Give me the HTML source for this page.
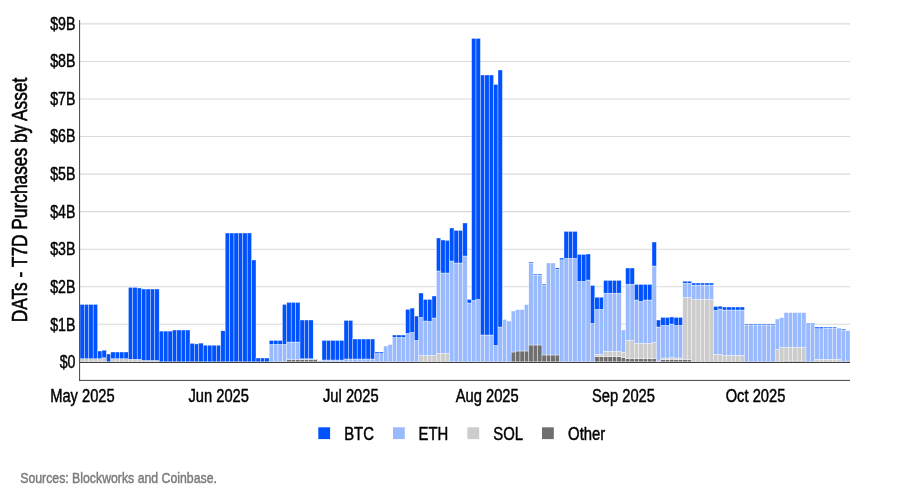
<!DOCTYPE html>
<html lang="en">
<head>
<meta charset="utf-8">
<title>DATs - T7D Purchases by Asset</title>
<style>
html,body{margin:0;padding:0;background:#fff;}
body{width:900px;height:500px;overflow:hidden;font-family:"Liberation Sans",sans-serif;}
svg{display:block;}
svg text{font-family:"Liberation Sans",sans-serif;}
</style>
</head>
<body>
<svg width="900" height="500" viewBox="0 0 900 500">
<rect width="900" height="500" fill="#ffffff"/>
<g stroke="#dadada" stroke-width="1.1" fill="none">
<line x1="80" x2="850" y1="324.30" y2="324.30"/>
<line x1="80" x2="850" y1="286.75" y2="286.75"/>
<line x1="80" x2="850" y1="249.20" y2="249.20"/>
<line x1="80" x2="850" y1="211.65" y2="211.65"/>
<line x1="80" x2="850" y1="174.10" y2="174.10"/>
<line x1="80" x2="850" y1="136.55" y2="136.55"/>
<line x1="80" x2="850" y1="99.00" y2="99.00"/>
<line x1="80" x2="850" y1="61.45" y2="61.45"/>
<line x1="80" x2="850" y1="23.90" y2="23.90"/>
</g>
<g stroke="#ffffff" stroke-width="0.5" stroke-opacity="0.75">
<rect x="80.00" y="358.70" width="4.40" height="3.10" fill="#cccccc"/>
<rect x="80.00" y="304.40" width="4.40" height="54.30" fill="#0052ff"/>
<rect x="84.40" y="358.70" width="4.40" height="3.10" fill="#cccccc"/>
<rect x="84.40" y="304.40" width="4.40" height="54.30" fill="#0052ff"/>
<rect x="88.80" y="358.70" width="4.40" height="3.10" fill="#cccccc"/>
<rect x="88.80" y="304.40" width="4.40" height="54.30" fill="#0052ff"/>
<rect x="93.20" y="358.70" width="4.40" height="3.10" fill="#cccccc"/>
<rect x="93.20" y="304.40" width="4.40" height="54.30" fill="#0052ff"/>
<rect x="97.60" y="358.70" width="4.40" height="3.10" fill="#cccccc"/>
<rect x="97.60" y="351.00" width="4.40" height="7.70" fill="#0052ff"/>
<rect x="102.00" y="357.80" width="4.40" height="4.00" fill="#cccccc"/>
<rect x="102.00" y="350.20" width="4.40" height="7.60" fill="#0052ff"/>
<rect x="106.40" y="354.00" width="4.40" height="7.80" fill="#0052ff"/>
<rect x="110.80" y="358.70" width="4.40" height="3.10" fill="#cccccc"/>
<rect x="110.80" y="352.00" width="4.40" height="6.70" fill="#0052ff"/>
<rect x="115.20" y="358.70" width="4.40" height="3.10" fill="#cccccc"/>
<rect x="115.20" y="352.00" width="4.40" height="6.70" fill="#0052ff"/>
<rect x="119.60" y="358.70" width="4.40" height="3.10" fill="#cccccc"/>
<rect x="119.60" y="352.00" width="4.40" height="6.70" fill="#0052ff"/>
<rect x="124.00" y="358.70" width="4.40" height="3.10" fill="#cccccc"/>
<rect x="124.00" y="352.00" width="4.40" height="6.70" fill="#0052ff"/>
<rect x="128.40" y="359.30" width="4.40" height="2.50" fill="#cccccc"/>
<rect x="128.40" y="287.40" width="4.40" height="71.90" fill="#0052ff"/>
<rect x="132.80" y="359.30" width="4.40" height="2.50" fill="#cccccc"/>
<rect x="132.80" y="287.40" width="4.40" height="71.90" fill="#0052ff"/>
<rect x="137.20" y="359.30" width="4.40" height="2.50" fill="#cccccc"/>
<rect x="137.20" y="288.00" width="4.40" height="71.30" fill="#0052ff"/>
<rect x="141.60" y="360.50" width="4.40" height="1.30" fill="#cccccc"/>
<rect x="141.60" y="289.00" width="4.40" height="71.50" fill="#0052ff"/>
<rect x="146.00" y="360.50" width="4.40" height="1.30" fill="#cccccc"/>
<rect x="146.00" y="289.00" width="4.40" height="71.50" fill="#0052ff"/>
<rect x="150.40" y="360.50" width="4.40" height="1.30" fill="#cccccc"/>
<rect x="150.40" y="289.00" width="4.40" height="71.50" fill="#0052ff"/>
<rect x="154.80" y="360.50" width="4.40" height="1.30" fill="#cccccc"/>
<rect x="154.80" y="289.00" width="4.40" height="71.50" fill="#0052ff"/>
<rect x="159.20" y="331.10" width="4.40" height="30.70" fill="#0052ff"/>
<rect x="163.60" y="331.10" width="4.40" height="30.70" fill="#0052ff"/>
<rect x="168.00" y="331.10" width="4.40" height="30.70" fill="#0052ff"/>
<rect x="172.40" y="330.00" width="4.40" height="31.80" fill="#0052ff"/>
<rect x="176.80" y="330.00" width="4.40" height="31.80" fill="#0052ff"/>
<rect x="181.20" y="330.00" width="4.40" height="31.80" fill="#0052ff"/>
<rect x="185.60" y="330.00" width="4.40" height="31.80" fill="#0052ff"/>
<rect x="190.00" y="343.30" width="4.40" height="18.50" fill="#0052ff"/>
<rect x="194.40" y="343.90" width="4.40" height="17.90" fill="#0052ff"/>
<rect x="198.80" y="343.10" width="4.40" height="18.70" fill="#0052ff"/>
<rect x="203.20" y="345.20" width="4.40" height="16.60" fill="#0052ff"/>
<rect x="207.60" y="345.20" width="4.40" height="16.60" fill="#0052ff"/>
<rect x="212.00" y="345.20" width="4.40" height="16.60" fill="#0052ff"/>
<rect x="216.40" y="345.20" width="4.40" height="16.60" fill="#0052ff"/>
<rect x="220.80" y="330.80" width="4.40" height="31.00" fill="#0052ff"/>
<rect x="225.20" y="233.00" width="4.40" height="128.80" fill="#0052ff"/>
<rect x="229.60" y="233.00" width="4.40" height="128.80" fill="#0052ff"/>
<rect x="234.00" y="233.00" width="4.40" height="128.80" fill="#0052ff"/>
<rect x="238.40" y="233.00" width="4.40" height="128.80" fill="#0052ff"/>
<rect x="242.80" y="233.00" width="4.40" height="128.80" fill="#0052ff"/>
<rect x="247.20" y="233.00" width="4.40" height="128.80" fill="#0052ff"/>
<rect x="251.60" y="260.00" width="4.40" height="101.80" fill="#0052ff"/>
<rect x="256.00" y="358.00" width="4.40" height="3.80" fill="#0052ff"/>
<rect x="260.40" y="358.00" width="4.40" height="3.80" fill="#0052ff"/>
<rect x="264.80" y="358.00" width="4.40" height="3.80" fill="#0052ff"/>
<rect x="269.20" y="344.40" width="4.40" height="17.40" fill="#99baff"/>
<rect x="269.20" y="340.40" width="4.40" height="4.00" fill="#0052ff"/>
<rect x="273.60" y="344.40" width="4.40" height="17.40" fill="#99baff"/>
<rect x="273.60" y="340.40" width="4.40" height="4.00" fill="#0052ff"/>
<rect x="278.00" y="344.40" width="4.40" height="17.40" fill="#99baff"/>
<rect x="278.00" y="340.40" width="4.40" height="4.00" fill="#0052ff"/>
<rect x="282.40" y="344.40" width="4.40" height="17.40" fill="#99baff"/>
<rect x="282.40" y="304.40" width="4.40" height="40.00" fill="#0052ff"/>
<rect x="286.80" y="359.60" width="4.40" height="2.20" fill="#6f6f6f"/>
<rect x="286.80" y="342.00" width="4.40" height="17.60" fill="#99baff"/>
<rect x="286.80" y="302.40" width="4.40" height="39.60" fill="#0052ff"/>
<rect x="291.20" y="359.60" width="4.40" height="2.20" fill="#6f6f6f"/>
<rect x="291.20" y="342.00" width="4.40" height="17.60" fill="#99baff"/>
<rect x="291.20" y="302.40" width="4.40" height="39.60" fill="#0052ff"/>
<rect x="295.60" y="359.60" width="4.40" height="2.20" fill="#6f6f6f"/>
<rect x="295.60" y="342.00" width="4.40" height="17.60" fill="#99baff"/>
<rect x="295.60" y="302.40" width="4.40" height="39.60" fill="#0052ff"/>
<rect x="300.00" y="359.60" width="4.40" height="2.20" fill="#6f6f6f"/>
<rect x="300.00" y="358.80" width="4.40" height="0.80" fill="#99baff"/>
<rect x="300.00" y="320.00" width="4.40" height="38.80" fill="#0052ff"/>
<rect x="304.40" y="359.60" width="4.40" height="2.20" fill="#6f6f6f"/>
<rect x="304.40" y="358.80" width="4.40" height="0.80" fill="#99baff"/>
<rect x="304.40" y="320.00" width="4.40" height="38.80" fill="#0052ff"/>
<rect x="308.80" y="359.60" width="4.40" height="2.20" fill="#6f6f6f"/>
<rect x="308.80" y="358.80" width="4.40" height="0.80" fill="#99baff"/>
<rect x="308.80" y="320.00" width="4.40" height="38.80" fill="#0052ff"/>
<rect x="313.20" y="359.60" width="4.40" height="2.20" fill="#6f6f6f"/>
<rect x="313.20" y="358.80" width="4.40" height="0.80" fill="#99baff"/>
<rect x="317.60" y="360.60" width="4.40" height="1.20" fill="#99baff"/>
<rect x="322.00" y="360.00" width="4.40" height="1.80" fill="#99baff"/>
<rect x="322.00" y="340.40" width="4.40" height="19.60" fill="#0052ff"/>
<rect x="326.40" y="360.00" width="4.40" height="1.80" fill="#99baff"/>
<rect x="326.40" y="340.40" width="4.40" height="19.60" fill="#0052ff"/>
<rect x="330.80" y="360.00" width="4.40" height="1.80" fill="#99baff"/>
<rect x="330.80" y="340.40" width="4.40" height="19.60" fill="#0052ff"/>
<rect x="335.20" y="360.00" width="4.40" height="1.80" fill="#99baff"/>
<rect x="335.20" y="340.40" width="4.40" height="19.60" fill="#0052ff"/>
<rect x="339.60" y="360.00" width="4.40" height="1.80" fill="#99baff"/>
<rect x="339.60" y="340.40" width="4.40" height="19.60" fill="#0052ff"/>
<rect x="344.00" y="359.00" width="4.40" height="2.80" fill="#99baff"/>
<rect x="344.00" y="320.40" width="4.40" height="38.60" fill="#0052ff"/>
<rect x="348.40" y="359.00" width="4.40" height="2.80" fill="#99baff"/>
<rect x="348.40" y="320.40" width="4.40" height="38.60" fill="#0052ff"/>
<rect x="352.80" y="359.00" width="4.40" height="2.80" fill="#99baff"/>
<rect x="352.80" y="339.00" width="4.40" height="20.00" fill="#0052ff"/>
<rect x="357.20" y="359.00" width="4.40" height="2.80" fill="#99baff"/>
<rect x="357.20" y="339.00" width="4.40" height="20.00" fill="#0052ff"/>
<rect x="361.60" y="359.00" width="4.40" height="2.80" fill="#99baff"/>
<rect x="361.60" y="339.00" width="4.40" height="20.00" fill="#0052ff"/>
<rect x="366.00" y="359.00" width="4.40" height="2.80" fill="#99baff"/>
<rect x="366.00" y="339.00" width="4.40" height="20.00" fill="#0052ff"/>
<rect x="370.40" y="359.00" width="4.40" height="2.80" fill="#99baff"/>
<rect x="370.40" y="339.00" width="4.40" height="20.00" fill="#0052ff"/>
<rect x="374.80" y="353.60" width="4.40" height="8.20" fill="#99baff"/>
<rect x="374.80" y="352.00" width="4.40" height="1.60" fill="#0052ff"/>
<rect x="379.20" y="353.60" width="4.40" height="8.20" fill="#99baff"/>
<rect x="379.20" y="352.00" width="4.40" height="1.60" fill="#0052ff"/>
<rect x="383.60" y="346.00" width="4.40" height="15.80" fill="#99baff"/>
<rect x="388.00" y="344.60" width="4.40" height="17.20" fill="#99baff"/>
<rect x="392.40" y="337.40" width="4.40" height="24.40" fill="#99baff"/>
<rect x="392.40" y="335.00" width="4.40" height="2.40" fill="#0052ff"/>
<rect x="396.80" y="337.40" width="4.40" height="24.40" fill="#99baff"/>
<rect x="396.80" y="335.00" width="4.40" height="2.40" fill="#0052ff"/>
<rect x="401.20" y="337.40" width="4.40" height="24.40" fill="#99baff"/>
<rect x="401.20" y="335.00" width="4.40" height="2.40" fill="#0052ff"/>
<rect x="405.60" y="333.40" width="4.40" height="28.40" fill="#99baff"/>
<rect x="405.60" y="309.40" width="4.40" height="24.00" fill="#0052ff"/>
<rect x="410.00" y="332.40" width="4.40" height="29.40" fill="#99baff"/>
<rect x="410.00" y="308.10" width="4.40" height="24.30" fill="#0052ff"/>
<rect x="414.40" y="340.40" width="4.40" height="21.40" fill="#99baff"/>
<rect x="414.40" y="316.00" width="4.40" height="24.40" fill="#0052ff"/>
<rect x="418.80" y="355.40" width="4.40" height="6.40" fill="#cccccc"/>
<rect x="418.80" y="317.40" width="4.40" height="38.00" fill="#99baff"/>
<rect x="418.80" y="293.00" width="4.40" height="24.40" fill="#0052ff"/>
<rect x="423.20" y="355.40" width="4.40" height="6.40" fill="#cccccc"/>
<rect x="423.20" y="321.00" width="4.40" height="34.40" fill="#99baff"/>
<rect x="423.20" y="299.40" width="4.40" height="21.60" fill="#0052ff"/>
<rect x="427.60" y="355.40" width="4.40" height="6.40" fill="#cccccc"/>
<rect x="427.60" y="321.40" width="4.40" height="34.00" fill="#99baff"/>
<rect x="427.60" y="299.40" width="4.40" height="22.00" fill="#0052ff"/>
<rect x="432.00" y="355.40" width="4.40" height="6.40" fill="#cccccc"/>
<rect x="432.00" y="318.00" width="4.40" height="37.40" fill="#99baff"/>
<rect x="432.00" y="296.00" width="4.40" height="22.00" fill="#0052ff"/>
<rect x="436.40" y="353.40" width="4.40" height="8.40" fill="#cccccc"/>
<rect x="436.40" y="271.00" width="4.40" height="82.40" fill="#99baff"/>
<rect x="436.40" y="238.00" width="4.40" height="33.00" fill="#0052ff"/>
<rect x="440.80" y="353.40" width="4.40" height="8.40" fill="#cccccc"/>
<rect x="440.80" y="273.00" width="4.40" height="80.40" fill="#99baff"/>
<rect x="440.80" y="240.00" width="4.40" height="33.00" fill="#0052ff"/>
<rect x="445.20" y="353.40" width="4.40" height="8.40" fill="#cccccc"/>
<rect x="445.20" y="273.00" width="4.40" height="80.40" fill="#99baff"/>
<rect x="445.20" y="240.40" width="4.40" height="32.60" fill="#0052ff"/>
<rect x="449.60" y="261.00" width="4.40" height="100.80" fill="#99baff"/>
<rect x="449.60" y="228.00" width="4.40" height="33.00" fill="#0052ff"/>
<rect x="454.00" y="263.00" width="4.40" height="98.80" fill="#99baff"/>
<rect x="454.00" y="230.40" width="4.40" height="32.60" fill="#0052ff"/>
<rect x="458.40" y="263.00" width="4.40" height="98.80" fill="#99baff"/>
<rect x="458.40" y="230.40" width="4.40" height="32.60" fill="#0052ff"/>
<rect x="462.80" y="256.00" width="4.40" height="105.80" fill="#99baff"/>
<rect x="462.80" y="223.00" width="4.40" height="33.00" fill="#0052ff"/>
<rect x="467.20" y="303.00" width="4.40" height="58.80" fill="#99baff"/>
<rect x="467.20" y="299.40" width="4.40" height="3.60" fill="#0052ff"/>
<rect x="471.60" y="300.40" width="4.40" height="61.40" fill="#99baff"/>
<rect x="471.60" y="38.40" width="4.40" height="262.00" fill="#0052ff"/>
<rect x="476.00" y="299.40" width="4.40" height="62.40" fill="#99baff"/>
<rect x="476.00" y="38.40" width="4.40" height="261.00" fill="#0052ff"/>
<rect x="480.40" y="335.00" width="4.40" height="26.80" fill="#99baff"/>
<rect x="480.40" y="75.00" width="4.40" height="260.00" fill="#0052ff"/>
<rect x="484.80" y="335.00" width="4.40" height="26.80" fill="#99baff"/>
<rect x="484.80" y="75.00" width="4.40" height="260.00" fill="#0052ff"/>
<rect x="489.20" y="335.00" width="4.40" height="26.80" fill="#99baff"/>
<rect x="489.20" y="75.00" width="4.40" height="260.00" fill="#0052ff"/>
<rect x="493.60" y="345.40" width="4.40" height="16.40" fill="#99baff"/>
<rect x="493.60" y="84.40" width="4.40" height="261.00" fill="#0052ff"/>
<rect x="498.00" y="327.00" width="4.40" height="34.80" fill="#99baff"/>
<rect x="498.00" y="70.00" width="4.40" height="257.00" fill="#0052ff"/>
<rect x="502.40" y="319.40" width="4.40" height="42.40" fill="#99baff"/>
<rect x="506.80" y="321.00" width="4.40" height="40.80" fill="#99baff"/>
<rect x="511.20" y="352.00" width="4.40" height="9.80" fill="#6f6f6f"/>
<rect x="511.20" y="311.00" width="4.40" height="41.00" fill="#99baff"/>
<rect x="515.60" y="351.00" width="4.40" height="10.80" fill="#6f6f6f"/>
<rect x="515.60" y="309.60" width="4.40" height="41.40" fill="#99baff"/>
<rect x="520.00" y="351.00" width="4.40" height="10.80" fill="#6f6f6f"/>
<rect x="520.00" y="309.60" width="4.40" height="41.40" fill="#99baff"/>
<rect x="524.40" y="351.00" width="4.40" height="10.80" fill="#6f6f6f"/>
<rect x="524.40" y="304.60" width="4.40" height="46.40" fill="#99baff"/>
<rect x="528.80" y="345.00" width="4.40" height="16.80" fill="#6f6f6f"/>
<rect x="528.80" y="263.00" width="4.40" height="82.00" fill="#99baff"/>
<rect x="528.80" y="262.00" width="4.40" height="1.00" fill="#0052ff"/>
<rect x="533.20" y="345.00" width="4.40" height="16.80" fill="#6f6f6f"/>
<rect x="533.20" y="275.00" width="4.40" height="70.00" fill="#99baff"/>
<rect x="533.20" y="274.00" width="4.40" height="1.00" fill="#0052ff"/>
<rect x="537.60" y="345.00" width="4.40" height="16.80" fill="#6f6f6f"/>
<rect x="537.60" y="275.00" width="4.40" height="70.00" fill="#99baff"/>
<rect x="537.60" y="274.00" width="4.40" height="1.00" fill="#0052ff"/>
<rect x="542.00" y="355.00" width="4.40" height="6.80" fill="#6f6f6f"/>
<rect x="542.00" y="285.00" width="4.40" height="70.00" fill="#99baff"/>
<rect x="542.00" y="284.00" width="4.40" height="1.00" fill="#0052ff"/>
<rect x="546.40" y="355.00" width="4.40" height="6.80" fill="#6f6f6f"/>
<rect x="546.40" y="263.00" width="4.40" height="92.00" fill="#99baff"/>
<rect x="550.80" y="355.00" width="4.40" height="6.80" fill="#6f6f6f"/>
<rect x="550.80" y="263.00" width="4.40" height="92.00" fill="#99baff"/>
<rect x="555.20" y="355.00" width="4.40" height="6.80" fill="#6f6f6f"/>
<rect x="555.20" y="269.30" width="4.40" height="85.70" fill="#99baff"/>
<rect x="555.20" y="268.00" width="4.40" height="1.30" fill="#0052ff"/>
<rect x="559.60" y="259.80" width="4.40" height="102.00" fill="#99baff"/>
<rect x="559.60" y="258.00" width="4.40" height="1.80" fill="#0052ff"/>
<rect x="564.00" y="258.40" width="4.40" height="103.40" fill="#99baff"/>
<rect x="564.00" y="231.40" width="4.40" height="27.00" fill="#0052ff"/>
<rect x="568.40" y="258.40" width="4.40" height="103.40" fill="#99baff"/>
<rect x="568.40" y="231.40" width="4.40" height="27.00" fill="#0052ff"/>
<rect x="572.80" y="258.40" width="4.40" height="103.40" fill="#99baff"/>
<rect x="572.80" y="231.40" width="4.40" height="27.00" fill="#0052ff"/>
<rect x="577.20" y="281.40" width="4.40" height="80.40" fill="#99baff"/>
<rect x="577.20" y="254.40" width="4.40" height="27.00" fill="#0052ff"/>
<rect x="581.60" y="281.40" width="4.40" height="80.40" fill="#99baff"/>
<rect x="581.60" y="254.40" width="4.40" height="27.00" fill="#0052ff"/>
<rect x="586.00" y="280.00" width="4.40" height="81.80" fill="#99baff"/>
<rect x="586.00" y="254.00" width="4.40" height="26.00" fill="#0052ff"/>
<rect x="590.40" y="323.40" width="4.40" height="38.40" fill="#99baff"/>
<rect x="590.40" y="285.40" width="4.40" height="38.00" fill="#0052ff"/>
<rect x="594.80" y="356.60" width="4.40" height="5.20" fill="#6f6f6f"/>
<rect x="594.80" y="354.40" width="4.40" height="2.20" fill="#cccccc"/>
<rect x="594.80" y="309.40" width="4.40" height="45.00" fill="#99baff"/>
<rect x="594.80" y="297.20" width="4.40" height="12.20" fill="#0052ff"/>
<rect x="599.20" y="356.60" width="4.40" height="5.20" fill="#6f6f6f"/>
<rect x="599.20" y="354.40" width="4.40" height="2.20" fill="#cccccc"/>
<rect x="599.20" y="309.40" width="4.40" height="45.00" fill="#99baff"/>
<rect x="599.20" y="297.20" width="4.40" height="12.20" fill="#0052ff"/>
<rect x="603.60" y="356.60" width="4.40" height="5.20" fill="#6f6f6f"/>
<rect x="603.60" y="351.40" width="4.40" height="5.20" fill="#cccccc"/>
<rect x="603.60" y="293.20" width="4.40" height="58.20" fill="#99baff"/>
<rect x="603.60" y="280.40" width="4.40" height="12.80" fill="#0052ff"/>
<rect x="608.00" y="356.60" width="4.40" height="5.20" fill="#6f6f6f"/>
<rect x="608.00" y="351.40" width="4.40" height="5.20" fill="#cccccc"/>
<rect x="608.00" y="293.20" width="4.40" height="58.20" fill="#99baff"/>
<rect x="608.00" y="280.40" width="4.40" height="12.80" fill="#0052ff"/>
<rect x="612.40" y="356.60" width="4.40" height="5.20" fill="#6f6f6f"/>
<rect x="612.40" y="351.40" width="4.40" height="5.20" fill="#cccccc"/>
<rect x="612.40" y="293.20" width="4.40" height="58.20" fill="#99baff"/>
<rect x="612.40" y="280.40" width="4.40" height="12.80" fill="#0052ff"/>
<rect x="616.80" y="356.60" width="4.40" height="5.20" fill="#6f6f6f"/>
<rect x="616.80" y="351.40" width="4.40" height="5.20" fill="#cccccc"/>
<rect x="616.80" y="293.20" width="4.40" height="58.20" fill="#99baff"/>
<rect x="616.80" y="280.40" width="4.40" height="12.80" fill="#0052ff"/>
<rect x="621.20" y="357.60" width="4.40" height="4.20" fill="#6f6f6f"/>
<rect x="621.20" y="352.40" width="4.40" height="5.20" fill="#cccccc"/>
<rect x="621.20" y="330.00" width="4.40" height="22.40" fill="#99baff"/>
<rect x="625.60" y="358.60" width="4.40" height="3.20" fill="#6f6f6f"/>
<rect x="625.60" y="340.40" width="4.40" height="18.20" fill="#cccccc"/>
<rect x="625.60" y="284.20" width="4.40" height="56.20" fill="#99baff"/>
<rect x="625.60" y="268.00" width="4.40" height="16.20" fill="#0052ff"/>
<rect x="630.00" y="358.60" width="4.40" height="3.20" fill="#6f6f6f"/>
<rect x="630.00" y="340.40" width="4.40" height="18.20" fill="#cccccc"/>
<rect x="630.00" y="284.20" width="4.40" height="56.20" fill="#99baff"/>
<rect x="630.00" y="268.00" width="4.40" height="16.20" fill="#0052ff"/>
<rect x="634.40" y="358.60" width="4.40" height="3.20" fill="#6f6f6f"/>
<rect x="634.40" y="343.40" width="4.40" height="15.20" fill="#cccccc"/>
<rect x="634.40" y="300.00" width="4.40" height="43.40" fill="#99baff"/>
<rect x="634.40" y="284.40" width="4.40" height="15.60" fill="#0052ff"/>
<rect x="638.80" y="358.60" width="4.40" height="3.20" fill="#6f6f6f"/>
<rect x="638.80" y="343.40" width="4.40" height="15.20" fill="#cccccc"/>
<rect x="638.80" y="301.40" width="4.40" height="42.00" fill="#99baff"/>
<rect x="638.80" y="284.40" width="4.40" height="17.00" fill="#0052ff"/>
<rect x="643.20" y="358.60" width="4.40" height="3.20" fill="#6f6f6f"/>
<rect x="643.20" y="343.40" width="4.40" height="15.20" fill="#cccccc"/>
<rect x="643.20" y="300.00" width="4.40" height="43.40" fill="#99baff"/>
<rect x="643.20" y="284.40" width="4.40" height="15.60" fill="#0052ff"/>
<rect x="647.60" y="358.60" width="4.40" height="3.20" fill="#6f6f6f"/>
<rect x="647.60" y="343.40" width="4.40" height="15.20" fill="#cccccc"/>
<rect x="647.60" y="300.00" width="4.40" height="43.40" fill="#99baff"/>
<rect x="647.60" y="284.40" width="4.40" height="15.60" fill="#0052ff"/>
<rect x="652.00" y="358.60" width="4.40" height="3.20" fill="#6f6f6f"/>
<rect x="652.00" y="342.40" width="4.40" height="16.20" fill="#cccccc"/>
<rect x="652.00" y="266.00" width="4.40" height="76.40" fill="#99baff"/>
<rect x="652.00" y="242.00" width="4.40" height="24.00" fill="#0052ff"/>
<rect x="656.40" y="361.00" width="4.40" height="0.80" fill="#cccccc"/>
<rect x="656.40" y="327.00" width="4.40" height="34.00" fill="#99baff"/>
<rect x="656.40" y="320.00" width="4.40" height="7.00" fill="#0052ff"/>
<rect x="660.80" y="359.70" width="4.40" height="2.10" fill="#6f6f6f"/>
<rect x="660.80" y="358.00" width="4.40" height="1.70" fill="#cccccc"/>
<rect x="660.80" y="325.40" width="4.40" height="32.60" fill="#99baff"/>
<rect x="660.80" y="317.40" width="4.40" height="8.00" fill="#0052ff"/>
<rect x="665.20" y="359.70" width="4.40" height="2.10" fill="#6f6f6f"/>
<rect x="665.20" y="358.00" width="4.40" height="1.70" fill="#cccccc"/>
<rect x="665.20" y="325.40" width="4.40" height="32.60" fill="#99baff"/>
<rect x="665.20" y="317.40" width="4.40" height="8.00" fill="#0052ff"/>
<rect x="669.60" y="359.70" width="4.40" height="2.10" fill="#6f6f6f"/>
<rect x="669.60" y="357.60" width="4.40" height="2.10" fill="#cccccc"/>
<rect x="669.60" y="324.00" width="4.40" height="33.60" fill="#99baff"/>
<rect x="669.60" y="317.00" width="4.40" height="7.00" fill="#0052ff"/>
<rect x="674.00" y="359.70" width="4.40" height="2.10" fill="#6f6f6f"/>
<rect x="674.00" y="358.00" width="4.40" height="1.70" fill="#cccccc"/>
<rect x="674.00" y="325.40" width="4.40" height="32.60" fill="#99baff"/>
<rect x="674.00" y="317.40" width="4.40" height="8.00" fill="#0052ff"/>
<rect x="678.40" y="359.70" width="4.40" height="2.10" fill="#6f6f6f"/>
<rect x="678.40" y="358.00" width="4.40" height="1.70" fill="#cccccc"/>
<rect x="678.40" y="325.40" width="4.40" height="32.60" fill="#99baff"/>
<rect x="678.40" y="317.40" width="4.40" height="8.00" fill="#0052ff"/>
<rect x="682.80" y="359.70" width="4.40" height="2.10" fill="#6f6f6f"/>
<rect x="682.80" y="297.40" width="4.40" height="62.30" fill="#cccccc"/>
<rect x="682.80" y="283.20" width="4.40" height="14.20" fill="#99baff"/>
<rect x="682.80" y="281.20" width="4.40" height="2.00" fill="#0052ff"/>
<rect x="687.20" y="359.70" width="4.40" height="2.10" fill="#6f6f6f"/>
<rect x="687.20" y="297.40" width="4.40" height="62.30" fill="#cccccc"/>
<rect x="687.20" y="283.20" width="4.40" height="14.20" fill="#99baff"/>
<rect x="687.20" y="281.20" width="4.40" height="2.00" fill="#0052ff"/>
<rect x="691.60" y="299.40" width="4.40" height="62.40" fill="#cccccc"/>
<rect x="691.60" y="285.00" width="4.40" height="14.40" fill="#99baff"/>
<rect x="691.60" y="283.00" width="4.40" height="2.00" fill="#0052ff"/>
<rect x="696.00" y="299.40" width="4.40" height="62.40" fill="#cccccc"/>
<rect x="696.00" y="285.00" width="4.40" height="14.40" fill="#99baff"/>
<rect x="696.00" y="283.00" width="4.40" height="2.00" fill="#0052ff"/>
<rect x="700.40" y="299.40" width="4.40" height="62.40" fill="#cccccc"/>
<rect x="700.40" y="285.00" width="4.40" height="14.40" fill="#99baff"/>
<rect x="700.40" y="283.00" width="4.40" height="2.00" fill="#0052ff"/>
<rect x="704.80" y="299.40" width="4.40" height="62.40" fill="#cccccc"/>
<rect x="704.80" y="285.00" width="4.40" height="14.40" fill="#99baff"/>
<rect x="704.80" y="283.00" width="4.40" height="2.00" fill="#0052ff"/>
<rect x="709.20" y="299.40" width="4.40" height="62.40" fill="#cccccc"/>
<rect x="709.20" y="285.00" width="4.40" height="14.40" fill="#99baff"/>
<rect x="709.20" y="283.00" width="4.40" height="2.00" fill="#0052ff"/>
<rect x="713.60" y="354.40" width="4.40" height="7.40" fill="#cccccc"/>
<rect x="713.60" y="310.40" width="4.40" height="44.00" fill="#99baff"/>
<rect x="713.60" y="306.40" width="4.40" height="4.00" fill="#0052ff"/>
<rect x="718.00" y="354.40" width="4.40" height="7.40" fill="#cccccc"/>
<rect x="718.00" y="309.00" width="4.40" height="45.40" fill="#99baff"/>
<rect x="718.00" y="306.20" width="4.40" height="2.80" fill="#0052ff"/>
<rect x="722.40" y="355.40" width="4.40" height="6.40" fill="#cccccc"/>
<rect x="722.40" y="310.00" width="4.40" height="45.40" fill="#99baff"/>
<rect x="722.40" y="307.00" width="4.40" height="3.00" fill="#0052ff"/>
<rect x="726.80" y="355.40" width="4.40" height="6.40" fill="#cccccc"/>
<rect x="726.80" y="310.00" width="4.40" height="45.40" fill="#99baff"/>
<rect x="726.80" y="307.00" width="4.40" height="3.00" fill="#0052ff"/>
<rect x="731.20" y="355.40" width="4.40" height="6.40" fill="#cccccc"/>
<rect x="731.20" y="310.00" width="4.40" height="45.40" fill="#99baff"/>
<rect x="731.20" y="307.00" width="4.40" height="3.00" fill="#0052ff"/>
<rect x="735.60" y="355.40" width="4.40" height="6.40" fill="#cccccc"/>
<rect x="735.60" y="310.00" width="4.40" height="45.40" fill="#99baff"/>
<rect x="735.60" y="307.00" width="4.40" height="3.00" fill="#0052ff"/>
<rect x="740.00" y="355.40" width="4.40" height="6.40" fill="#cccccc"/>
<rect x="740.00" y="310.00" width="4.40" height="45.40" fill="#99baff"/>
<rect x="740.00" y="307.00" width="4.40" height="3.00" fill="#0052ff"/>
<rect x="744.40" y="325.00" width="4.40" height="36.80" fill="#99baff"/>
<rect x="744.40" y="324.00" width="4.40" height="1.00" fill="#0052ff"/>
<rect x="748.80" y="325.00" width="4.40" height="36.80" fill="#99baff"/>
<rect x="748.80" y="324.00" width="4.40" height="1.00" fill="#0052ff"/>
<rect x="753.20" y="325.00" width="4.40" height="36.80" fill="#99baff"/>
<rect x="753.20" y="324.00" width="4.40" height="1.00" fill="#0052ff"/>
<rect x="757.60" y="325.00" width="4.40" height="36.80" fill="#99baff"/>
<rect x="757.60" y="324.00" width="4.40" height="1.00" fill="#0052ff"/>
<rect x="762.00" y="325.00" width="4.40" height="36.80" fill="#99baff"/>
<rect x="762.00" y="324.00" width="4.40" height="1.00" fill="#0052ff"/>
<rect x="766.40" y="325.00" width="4.40" height="36.80" fill="#99baff"/>
<rect x="766.40" y="324.00" width="4.40" height="1.00" fill="#0052ff"/>
<rect x="770.80" y="325.00" width="4.40" height="36.80" fill="#99baff"/>
<rect x="770.80" y="324.00" width="4.40" height="1.00" fill="#0052ff"/>
<rect x="775.20" y="349.40" width="4.40" height="12.40" fill="#cccccc"/>
<rect x="775.20" y="319.00" width="4.40" height="30.40" fill="#99baff"/>
<rect x="779.60" y="347.40" width="4.40" height="14.40" fill="#cccccc"/>
<rect x="779.60" y="317.60" width="4.40" height="29.80" fill="#99baff"/>
<rect x="784.00" y="361.00" width="4.40" height="0.80" fill="#6f6f6f"/>
<rect x="784.00" y="347.40" width="4.40" height="13.60" fill="#cccccc"/>
<rect x="784.00" y="312.60" width="4.40" height="34.80" fill="#99baff"/>
<rect x="788.40" y="361.00" width="4.40" height="0.80" fill="#6f6f6f"/>
<rect x="788.40" y="347.40" width="4.40" height="13.60" fill="#cccccc"/>
<rect x="788.40" y="312.60" width="4.40" height="34.80" fill="#99baff"/>
<rect x="792.80" y="361.00" width="4.40" height="0.80" fill="#6f6f6f"/>
<rect x="792.80" y="347.40" width="4.40" height="13.60" fill="#cccccc"/>
<rect x="792.80" y="312.60" width="4.40" height="34.80" fill="#99baff"/>
<rect x="797.20" y="361.00" width="4.40" height="0.80" fill="#6f6f6f"/>
<rect x="797.20" y="347.40" width="4.40" height="13.60" fill="#cccccc"/>
<rect x="797.20" y="312.60" width="4.40" height="34.80" fill="#99baff"/>
<rect x="801.60" y="361.00" width="4.40" height="0.80" fill="#6f6f6f"/>
<rect x="801.60" y="347.40" width="4.40" height="13.60" fill="#cccccc"/>
<rect x="801.60" y="312.60" width="4.40" height="34.80" fill="#99baff"/>
<rect x="806.00" y="323.60" width="4.40" height="38.20" fill="#99baff"/>
<rect x="806.00" y="323.00" width="4.40" height="0.60" fill="#0052ff"/>
<rect x="810.40" y="323.60" width="4.40" height="38.20" fill="#99baff"/>
<rect x="810.40" y="323.00" width="4.40" height="0.60" fill="#0052ff"/>
<rect x="814.80" y="359.40" width="4.40" height="2.40" fill="#cccccc"/>
<rect x="814.80" y="328.70" width="4.40" height="30.70" fill="#99baff"/>
<rect x="814.80" y="327.00" width="4.40" height="1.70" fill="#0052ff"/>
<rect x="819.20" y="359.40" width="4.40" height="2.40" fill="#cccccc"/>
<rect x="819.20" y="328.70" width="4.40" height="30.70" fill="#99baff"/>
<rect x="819.20" y="327.00" width="4.40" height="1.70" fill="#0052ff"/>
<rect x="823.60" y="359.40" width="4.40" height="2.40" fill="#cccccc"/>
<rect x="823.60" y="328.00" width="4.40" height="31.40" fill="#99baff"/>
<rect x="823.60" y="327.00" width="4.40" height="1.00" fill="#0052ff"/>
<rect x="828.00" y="359.40" width="4.40" height="2.40" fill="#cccccc"/>
<rect x="828.00" y="328.00" width="4.40" height="31.40" fill="#99baff"/>
<rect x="828.00" y="327.00" width="4.40" height="1.00" fill="#0052ff"/>
<rect x="832.40" y="359.40" width="4.40" height="2.40" fill="#cccccc"/>
<rect x="832.40" y="328.00" width="4.40" height="31.40" fill="#99baff"/>
<rect x="832.40" y="327.00" width="4.40" height="1.00" fill="#0052ff"/>
<rect x="836.80" y="359.40" width="4.40" height="2.40" fill="#cccccc"/>
<rect x="836.80" y="328.00" width="4.40" height="31.40" fill="#99baff"/>
<rect x="841.20" y="330.00" width="4.40" height="31.80" fill="#99baff"/>
<rect x="841.20" y="329.00" width="4.40" height="1.00" fill="#0052ff"/>
<rect x="845.60" y="361.00" width="4.40" height="0.80" fill="#6f6f6f"/>
<rect x="845.60" y="330.60" width="4.40" height="30.40" fill="#99baff"/>
</g>
<g stroke="#444444" fill="none">
<line x1="79.6" x2="79.6" y1="20" y2="380.9" stroke-width="1"/>
<line x1="79.1" x2="850" y1="380.4" y2="380.4" stroke-width="1"/>
<line x1="80" x2="850" y1="362.45" y2="362.45" stroke-width="1" stroke="#333333"/>
</g>
<g>
<text transform="translate(75.40 368.20) scale(0.81 1)" text-anchor="end" font-size="17.5" fill="#000" stroke="#000" stroke-width="0.45">$0</text>
<text transform="translate(75.40 330.57) scale(0.81 1)" text-anchor="end" font-size="17.5" fill="#000" stroke="#000" stroke-width="0.45">$1B</text>
<text transform="translate(75.40 292.94) scale(0.81 1)" text-anchor="end" font-size="17.5" fill="#000" stroke="#000" stroke-width="0.45">$2B</text>
<text transform="translate(75.40 255.31) scale(0.81 1)" text-anchor="end" font-size="17.5" fill="#000" stroke="#000" stroke-width="0.45">$3B</text>
<text transform="translate(75.40 217.68) scale(0.81 1)" text-anchor="end" font-size="17.5" fill="#000" stroke="#000" stroke-width="0.45">$4B</text>
<text transform="translate(75.40 180.05) scale(0.81 1)" text-anchor="end" font-size="17.5" fill="#000" stroke="#000" stroke-width="0.45">$5B</text>
<text transform="translate(75.40 142.42) scale(0.81 1)" text-anchor="end" font-size="17.5" fill="#000" stroke="#000" stroke-width="0.45">$6B</text>
<text transform="translate(75.40 104.79) scale(0.81 1)" text-anchor="end" font-size="17.5" fill="#000" stroke="#000" stroke-width="0.45">$7B</text>
<text transform="translate(75.40 67.16) scale(0.81 1)" text-anchor="end" font-size="17.5" fill="#000" stroke="#000" stroke-width="0.45">$8B</text>
<text transform="translate(75.40 29.53) scale(0.81 1)" text-anchor="end" font-size="17.5" fill="#000" stroke="#000" stroke-width="0.45">$9B</text>
</g>
<g>
<text transform="translate(82.40 402.00) scale(0.84 1)" text-anchor="middle" font-size="17.5" fill="#000" stroke="#000" stroke-width="0.45">May 2025</text>
<text transform="translate(218.70 402.00) scale(0.84 1)" text-anchor="middle" font-size="17.5" fill="#000" stroke="#000" stroke-width="0.45">Jun 2025</text>
<text transform="translate(350.80 402.00) scale(0.84 1)" text-anchor="middle" font-size="17.5" fill="#000" stroke="#000" stroke-width="0.45">Jul 2025</text>
<text transform="translate(487.20 402.00) scale(0.84 1)" text-anchor="middle" font-size="17.5" fill="#000" stroke="#000" stroke-width="0.45">Aug 2025</text>
<text transform="translate(623.50 402.00) scale(0.84 1)" text-anchor="middle" font-size="17.5" fill="#000" stroke="#000" stroke-width="0.45">Sep 2025</text>
<text transform="translate(755.50 402.00) scale(0.84 1)" text-anchor="middle" font-size="17.5" fill="#000" stroke="#000" stroke-width="0.45">Oct 2025</text>
</g>
<text transform="translate(27.2 200.0) rotate(-90) scale(0.770 1)" text-anchor="middle" font-size="22.5" fill="#000" stroke="#000" stroke-width="0.6">DATs - T7D Purchases by Asset</text>
<g>
<rect x="318.3" y="427.3" width="11.8" height="11.8" fill="#0052ff"/>
<text transform="translate(344.20 440.20) scale(0.85 1)" text-anchor="start" font-size="17.5" fill="#000" stroke="#000" stroke-width="0.45">BTC</text>
<rect x="393.0" y="427.3" width="11.8" height="11.8" fill="#99baff"/>
<text transform="translate(418.50 440.20) scale(0.85 1)" text-anchor="start" font-size="17.5" fill="#000" stroke="#000" stroke-width="0.45">ETH</text>
<rect x="467.4" y="427.3" width="11.8" height="11.8" fill="#cccccc"/>
<text transform="translate(493.30 440.20) scale(0.85 1)" text-anchor="start" font-size="17.5" fill="#000" stroke="#000" stroke-width="0.45">SOL</text>
<rect x="542.0" y="427.3" width="11.8" height="11.8" fill="#6f6f6f"/>
<text transform="translate(568.10 440.20) scale(0.85 1)" text-anchor="start" font-size="17.5" fill="#000" stroke="#000" stroke-width="0.45">Other</text>
</g>
<text transform="translate(20.20 482.60) scale(0.82 1)" text-anchor="start" font-size="15" fill="#7a7a7a" stroke="#7a7a7a" stroke-width="0.45">Sources: Blockworks and Coinbase.</text>
</svg>
</body>
</html>
